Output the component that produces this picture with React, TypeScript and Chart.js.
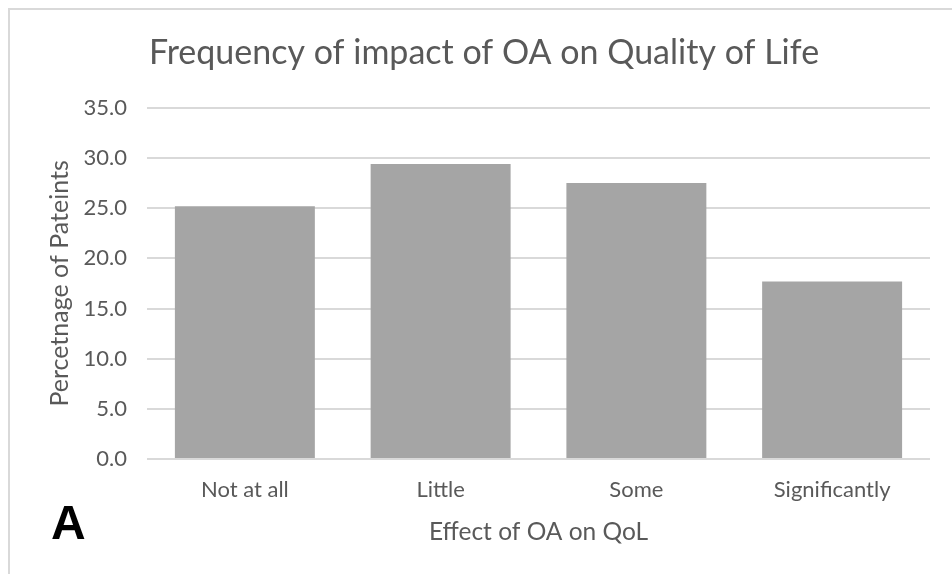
import React, { useEffect, useRef } from "react";
import { Chart, registerables } from "chart.js";

Chart.register(...registerables);

const categories = ["Not at all", "Little", "Some", "Significantly"];
const percentages = [25.2, 29.4, 27.5, 17.7];
const yTicks = [0, 5, 10, 15, 20, 25, 30, 35];

const TEXT = "#595959";
const FONT = "Lato, 'Open Sans', sans-serif";

export default function App() {
  const ref = useRef<HTMLCanvasElement | null>(null);

  useEffect(() => {
    if (!ref.current) return;
    const chart = new Chart(ref.current, {
      type: "bar",
      data: {
        labels: categories,
        datasets: [
          {
            data: percentages,
            backgroundColor: "#a5a5a5",
            borderWidth: 0,
            barPercentage: 0.715,
            categoryPercentage: 1,
          },
        ],
      },
      options: {
        animation: false,
        responsive: false,
        layout: { padding: { left: 38, right: 22, top: 8, bottom: 22 } },
        plugins: {
          legend: { display: false },
          tooltip: { enabled: false },
          title: {
            display: true,
            text: "Frequency of impact of OA on Quality of Life",
            color: TEXT,
            font: { family: FONT, size: 34, weight: "normal" },
            padding: { top: 25, bottom: 34 },
          },
        },
        scales: {
          x: {
            grid: { display: false, drawTicks: false },
            border: { display: false },
            ticks: {
              color: TEXT,
              font: { family: FONT, size: 22 },
              padding: 18,
            },
            title: {
              display: true,
              text: "Effect of OA on QoL",
              color: TEXT,
              font: { family: FONT, size: 24.5, lineHeight: 1 },
              padding: { top: -2, bottom: 8 },
            },
          },
          y: {
            min: 0,
            max: 35,
            afterBuildTicks: (axis: any) => {
              axis.ticks = yTicks.map((v) => ({ value: v }));
            },
            afterFit: (axis: any) => {
              axis.width = 109;
            },
            grid: { color: "#d9d9d9", lineWidth: 2, drawTicks: false },
            border: { display: false },
            ticks: {
              color: TEXT,
              font: { family: FONT, size: 22 },
              padding: 20,
              callback: (v: any) => Number(v).toFixed(1),
            },
            title: {
              display: true,
              text: "Percetnage of Pateints",
              color: TEXT,
              font: { family: FONT, size: 25 },
              padding: { top: 7, bottom: 0 },
            },
          },
        },
      },
    });
    return () => chart.destroy();
  }, []);

  return (
    <div
      style={{
        position: "absolute",
        left: 0,
        top: 0,
        width: 952,
        height: 574,
        background: "#fff",
        overflow: "hidden",
      }}
    >
      <div
        style={{
          position: "absolute",
          left: 8,
          top: 8,
          width: 952,
          height: 574,
          borderTop: "2px solid #d9d9d9",
          borderLeft: "2px solid #d9d9d9",
        }}
      />
      <canvas
        ref={ref}
        width={952}
        height={574}
        style={{ position: "absolute", left: 0, top: 0, width: 952, height: 574 }}
      />
      <div
        style={{
          position: "absolute",
          left: 51,
          top: 496,
          fontFamily: "'Liberation Sans', Arial, sans-serif",
          fontWeight: "bold",
          fontSize: 48,
          lineHeight: "54px",
          color: "#000",
        }}
      >
        A
      </div>
    </div>
  );
}
